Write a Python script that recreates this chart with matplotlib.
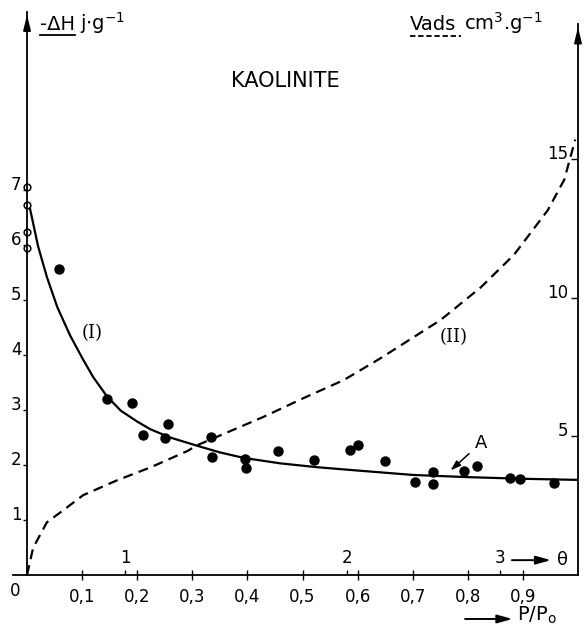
import numpy as np
import matplotlib
matplotlib.use("Agg")
import matplotlib.pyplot as plt
from matplotlib.lines import Line2D

# Data
# curve (I): heat of adsorption -dH (j/g) vs P/Po, left axis
curve1_x = [0.005, 0.02, 0.036, 0.055, 0.078, 0.1, 0.12, 0.145, 0.17, 0.2, 0.224, 0.26,
            0.309, 0.35, 0.393, 0.46, 0.527, 0.6, 0.7, 0.8, 0.9, 1.0]
curve1_y = [6.68, 5.98, 5.42, 4.87, 4.36, 3.95, 3.6, 3.25, 2.99, 2.79, 2.65, 2.5,
            2.35, 2.23, 2.13, 2.03, 1.96, 1.9, 1.82, 1.78, 1.75, 1.73]

# measured points (filled)
pts_x = [0.058, 0.145, 0.191, 0.211, 0.251, 0.255, 0.333, 0.336, 0.395, 0.398, 0.456,
         0.520, 0.587, 0.600, 0.649, 0.705, 0.736, 0.736, 0.793, 0.816, 0.876, 0.895, 0.956]
pts_y = [5.56, 3.20, 3.13, 2.55, 2.49, 2.75, 2.51, 2.15, 2.11, 1.95, 2.25,
         2.09, 2.27, 2.36, 2.07, 1.69, 1.87, 1.65, 1.89, 1.98, 1.76, 1.75, 1.67]

# open points on the ordinate
open_x = [0, 0, 0, 0]
open_y = [7.05, 6.73, 6.24, 5.95]

# curve (II): adsorbed volume Vads (cm3/g), right axis
curve2_x = [0, 0.011, 0.036, 0.06, 0.102, 0.164, 0.224, 0.291, 0.309, 0.429,
            0.502, 0.575, 0.642, 0.751, 0.824, 0.884, 0.945, 0.975, 0.995]
curve2_y = [0, 0.98, 1.9, 2.25, 2.88, 3.42, 3.88, 4.47, 4.68, 5.7,
            6.38, 7.03, 7.82, 9.2, 10.38, 11.55, 13.15, 14.25, 15.7]

xticks = [0.1, 0.2, 0.3, 0.4, 0.5, 0.6, 0.7, 0.8, 0.9]
xticklabels = ['0,1', '0,2', '0,3', '0,4', '0,5', '0,6', '0,7', '0,8', '0,9']
left_ticks = [1, 2, 3, 4, 5, 6, 7]
right_ticks = [5, 10, 15]
theta_x = [0.178, 0.58, 0.858]
theta_labels = ['1', '2', '3']

# Plot
fig = plt.figure(figsize=(5.88, 6.32), dpi=100)
ax = fig.add_axes([13/588, 57/632, 565/588, 563/632])
ax.set_xlim(-0.0255, 1.0)
ax.set_ylim(0, 10.24)
ax2 = ax.twinx()
ax2.set_ylim(0, 20.3)

ax.plot(curve1_x, curve1_y, 'k-', lw=1.6, solid_capstyle='round', solid_joinstyle='round')
ax.plot(pts_x, pts_y, 'ko', ms=6.5, clip_on=False)
ax.plot(open_x, open_y, 'o', ms=4.8, mfc='white', mec='k', mew=1.1, clip_on=False)
ax2.plot(curve2_x, curve2_y, 'k--', lw=1.6, dashes=(4.5, 2.8))

# spines
for s in ['top', 'right']:
    ax.spines[s].set_visible(False)
for s in ['top', 'left', 'bottom']:
    ax2.spines[s].set_visible(False)
ax.spines['left'].set_position(('data', 0))
ax.spines['left'].set_linewidth(1.3)
ax.spines['bottom'].set_linewidth(1.3)
ax2.spines['right'].set_linewidth(1.3)
ax2.spines['right'].set_bounds(0, 19.85)

# arrow heads on the ordinates
ax.annotate('', xy=(0, 1.0), xytext=(0, 0.96), xycoords=ax.get_xaxis_transform(),
            arrowprops=dict(arrowstyle='-|>,head_width=0.22,head_length=0.9', color='k', lw=1.3))
ax2.annotate('', xy=(1.0, 19.85), xytext=(1.0, 19.0), xycoords=('axes fraction', 'data'),
             arrowprops=dict(arrowstyle='-|>,head_width=0.22,head_length=0.9', color='k', lw=1.3))

# ticks
ax.set_xticks(xticks)
ax.set_xticklabels(xticklabels)
ax.tick_params(axis='x', direction='inout', length=7, width=1, labelsize=12, pad=6)
ax.set_yticks(left_ticks)
ax.set_yticklabels([str(v) for v in left_ticks], va='baseline')
ax.tick_params(axis='y', direction='out', length=3, width=1, labelsize=12, pad=1)
ax2.set_yticks(right_ticks)
ax2.set_yticklabels([str(v) for v in right_ticks], ha='right', va='baseline')
ax2.tick_params(axis='y', direction='in', length=5, width=1, labelsize=12, pad=-7)

ax.text(-0.022, -0.12, '0', fontsize=12, ha='center', va='top', clip_on=False)

# theta scale on the abscissa
ax.vlines(theta_x, 0, 0.1, color='k', lw=1)
for tx, tl in zip(theta_x, theta_labels):
    ax.text(tx, 0.14, tl, fontsize=12, ha='center', va='bottom')
ax.annotate('', xy=(0.956, 0.27), xytext=(0.875, 0.27),
            arrowprops=dict(arrowstyle='-|>,head_width=0.25,head_length=0.9', color='k', lw=1.4))
ax.text(0.962, 0.27, 'θ', fontsize=13, ha='left', va='center')

# P/Po label
ax.annotate('', xy=(0.886, -0.8), xytext=(0.79, -0.8), annotation_clip=False,
            arrowprops=dict(arrowstyle='-|>,head_width=0.25,head_length=0.9', color='k', lw=1.4))
ax.text(0.89, -0.74, r'P/P$_\mathrm{o}$', fontsize=14, ha='left', va='center', clip_on=False)

# annotations
ax.text(0.469, 8.98, 'KAOLINITE', fontsize=15, ha='center', va='center')
ax.text(0.118, 4.4, '(I)', fontsize=13, family='DejaVu Serif', ha='center', va='center')
ax.text(0.775, 4.33, '(II)', fontsize=13, family='DejaVu Serif', ha='center', va='center')
ax.text(0.824, 2.4, 'A', fontsize=13, ha='center', va='center')
ax.annotate('', xy=(0.765, 1.87), xytext=(0.806, 2.24),
            arrowprops=dict(arrowstyle='-|>,head_width=0.2,head_length=0.6', color='k', lw=1.1))

# axis titles with underlines
y_title = (632 - 30) / 632
t1 = fig.text(40/588, y_title, '-ΔH', fontsize=14, va='baseline')
t3 = fig.text(410/588, y_title, 'Vads', fontsize=14, va='baseline')
fig.canvas.draw()
r = fig.canvas.get_renderer()
inv = fig.transFigure.inverted()
b1 = t1.get_window_extent(r)
b3 = t3.get_window_extent(r)
p0 = inv.transform((b1.x0, b1.y0 - 1))
p1 = inv.transform((b1.x1, b1.y0 - 1))
fig.add_artist(Line2D([p0[0], p1[0]], [p0[1], p1[1]], color='k', lw=1.3, transform=fig.transFigure))
fig.text(p1[0] + 5/588, y_title, r'j$\cdot$g$^{-1}$', fontsize=14, va='baseline')
q0 = inv.transform((b3.x0, b3.y0 - 2))
q1 = inv.transform((b3.x1 + 5, b3.y0 - 2))
fig.add_artist(Line2D([q0[0], q1[0]], [q0[1], q1[1]], color='k', lw=1.3, ls=(0, (3, 1.5)),
                      transform=fig.transFigure))
fig.text(q1[0] + 3/588, y_title, r'cm$^3$.g$^{-1}$', fontsize=14, va='baseline')

fig.savefig('out.png', dpi=100)
